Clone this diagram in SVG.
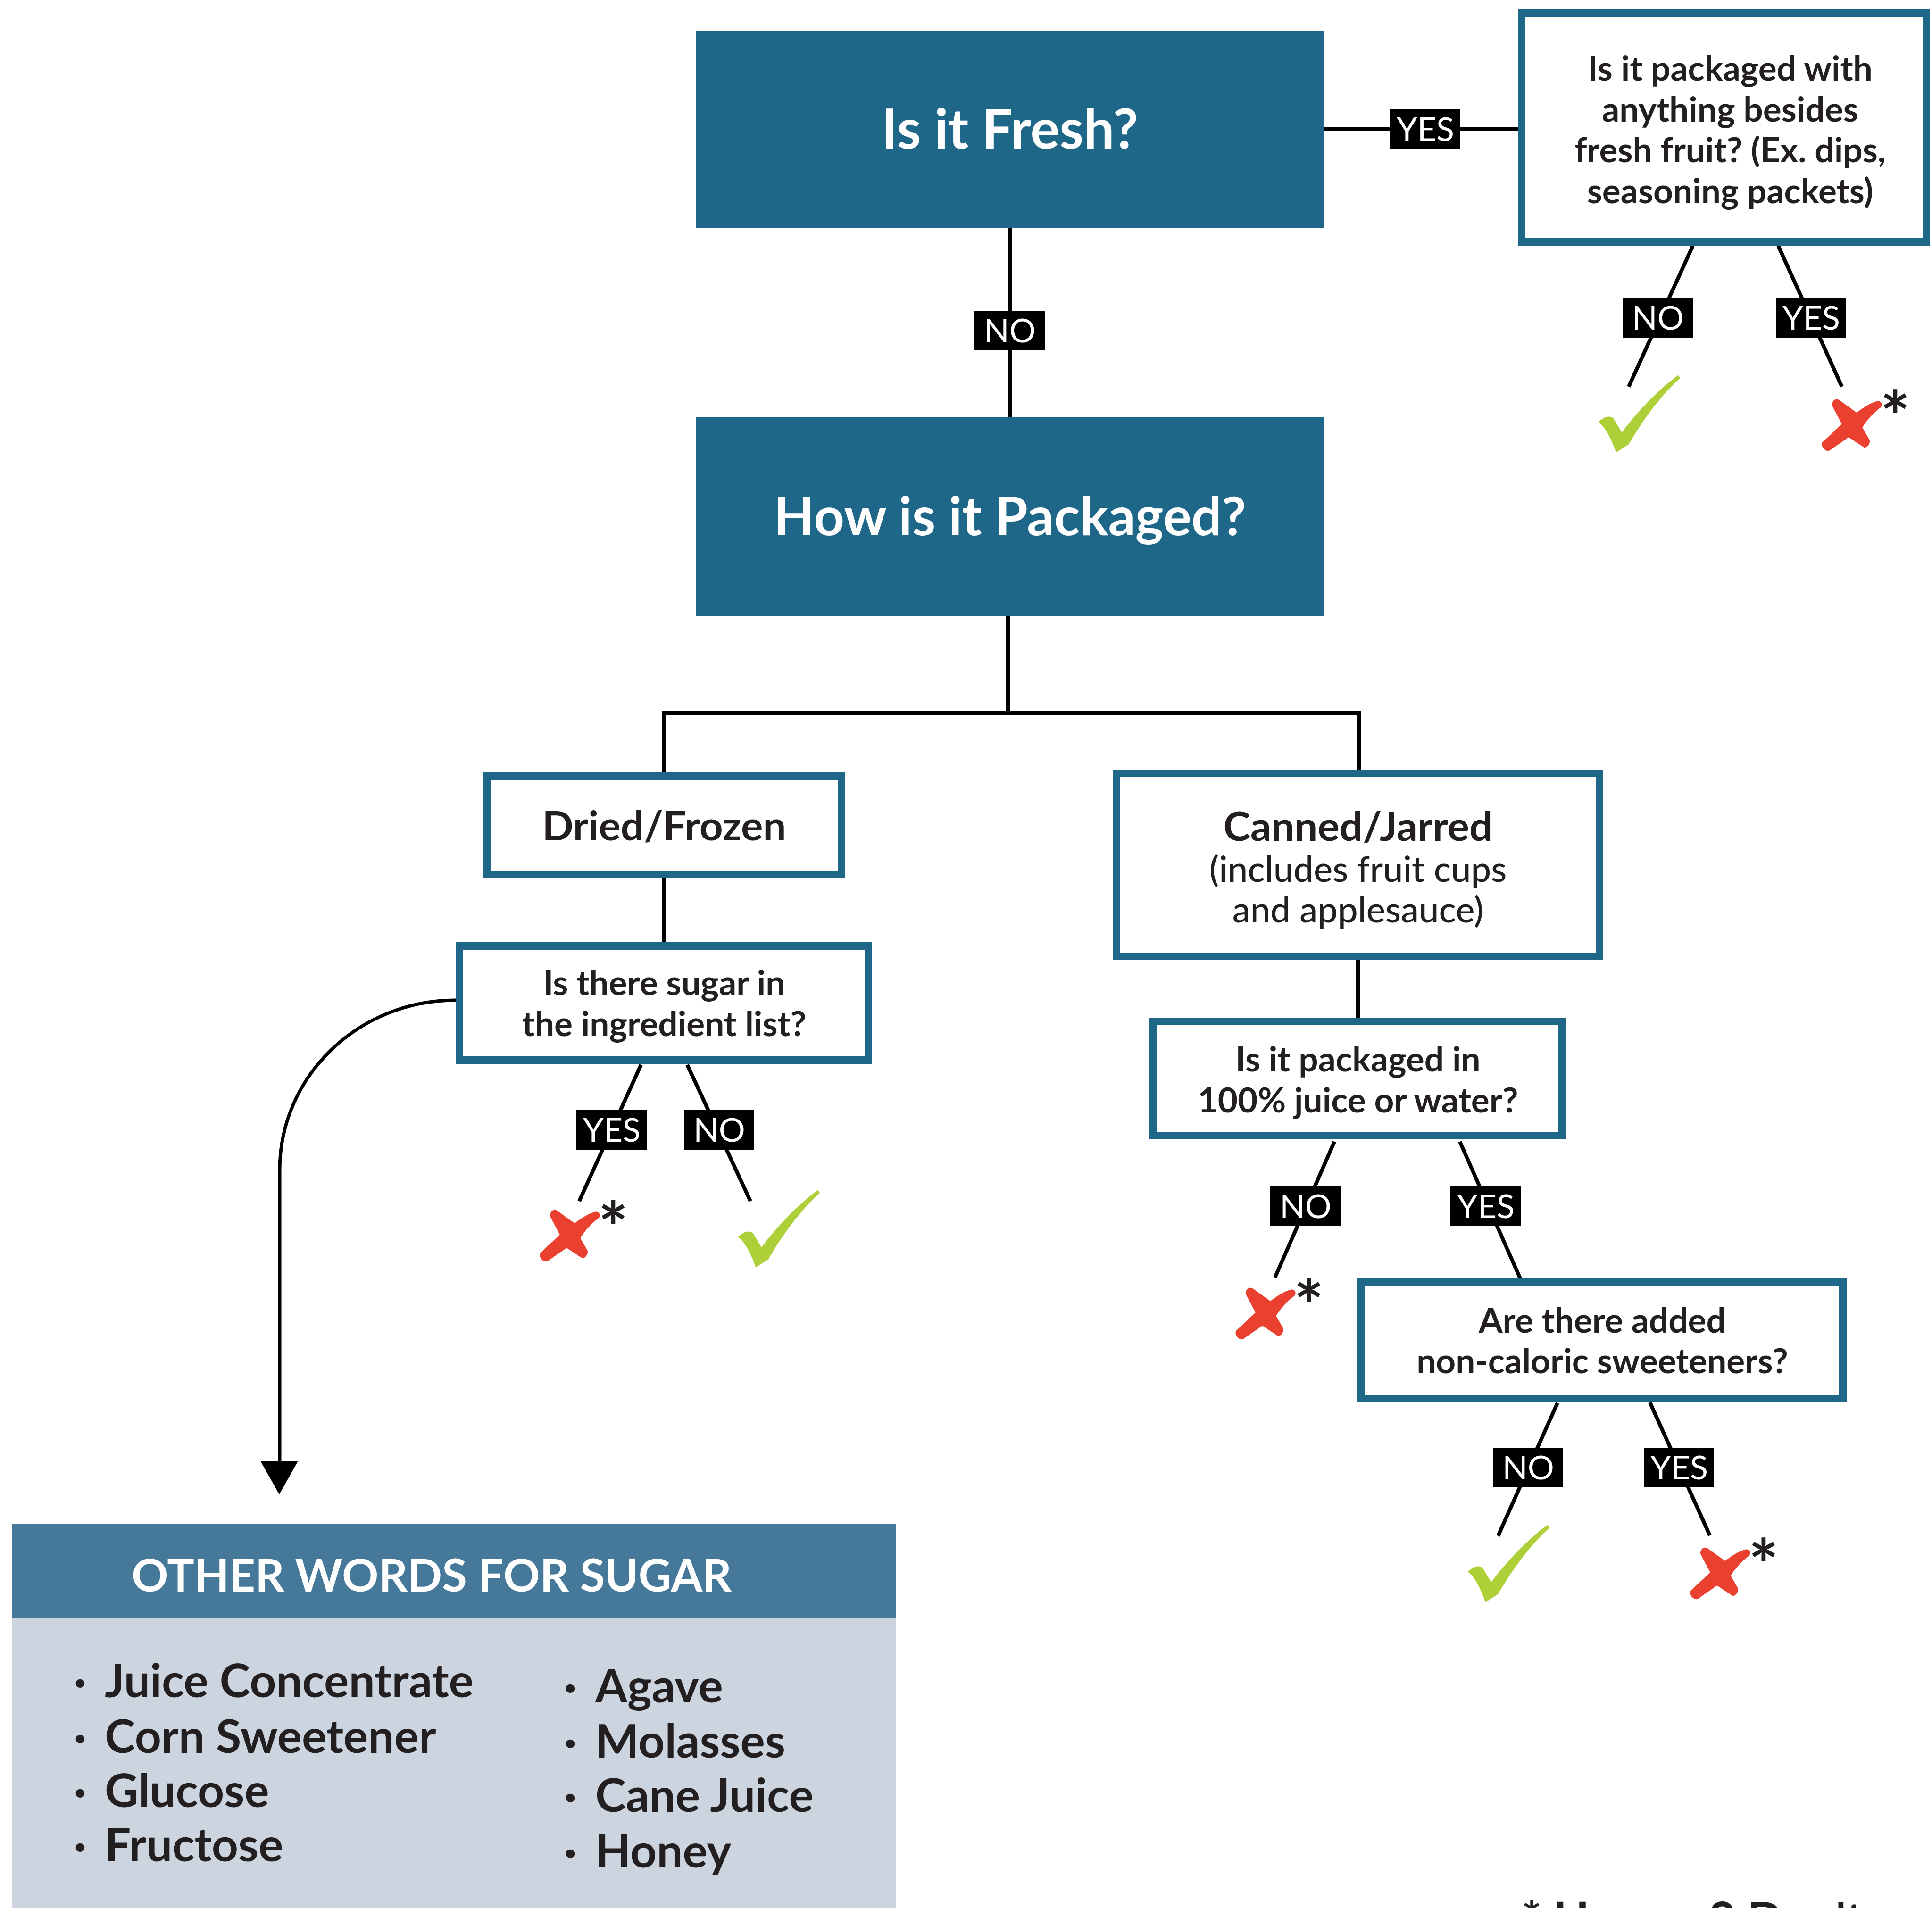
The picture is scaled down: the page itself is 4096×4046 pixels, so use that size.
<svg xmlns="http://www.w3.org/2000/svg" xmlns:xlink="http://www.w3.org/1999/xlink" width="4096" height="4046" viewBox="0 0 4096 4046">
<style>
.fill{fill:#1f6788}
.box{fill:#fff;stroke:#1f6788;stroke-width:16}
.ln{fill:none;stroke:#000;stroke-width:8}
.lbl{fill:#000}
.lt{font-family:Lato,"Liberation Sans",sans-serif;font-size:70px;fill:#fff;text-anchor:middle}
.t{font-family:Lato,"Liberation Sans",sans-serif;fill:#231f20;text-anchor:middle;font-weight:700}
.big{font-size:116px;fill:#fff}
.q{font-size:73px}
.h{font-size:87px}
.sub{font-size:76px;font-weight:500}
.li{font-family:Lato,"Liberation Sans",sans-serif;font-size:98px;font-weight:700;fill:#231f20}
.ast{font-family:Lato,"Liberation Sans",sans-serif;font-size:150px;font-weight:700;fill:#231f20;text-anchor:middle}
.chk{fill:#adcf37}
.xm{fill:#ea4030}
</style>
<defs>
<path id="chk" d="M85,535 C120,500 175,470 215,500 L290,625 C420,450 600,260 780,125 L800,150 C640,290 470,520 350,730 L240,800 C200,690 150,580 85,535 Z"/>
<path id="xm" d="M240,210 C250,180 285,180 300,192 L450,300 C510,255 570,215 630,200 C665,195 680,230 660,255 C600,300 540,360 500,430 L560,535 C575,560 545,610 515,605 L380,515 L215,630 C185,650 130,600 150,560 L320,400 L238,245 C232,232 234,220 240,210 Z"/>
</defs>
<rect width="4096" height="4046" fill="#fff"/>

<g id="connectors">
<path class="ln" d="M2805,274 H3226"/>
<path class="ln" d="M2141,483 V885"/>
<path class="ln" d="M2137,1306 V1512 M1408,1638 V1512 H2881 V1632"/>
<path class="ln" d="M1408,1862 V1998"/>
<path class="ln" d="M2879,2036 V2158"/>
<path class="ln" d="M3589,521 L3453,820 M3770,521 L3905,820"/>
<path class="ln" d="M1359,2258 L1228,2547 M1457,2258 L1591,2547"/>
<path class="ln" d="M2829,2421 L2703,2709 M3095,2421 L3223,2711"/>
<path class="ln" d="M3302,2975 L3176,3257 M3498,2974 L3625,3256"/>
<path class="ln" style="stroke-width:7" d="M966,2121 C760,2121 593,2282 593,2481 V3105"/>
<polygon points="552,3098 632,3098 592,3169" fill="#000"/>
</g>

<g id="n-fresh">
<rect class="fill" x="1476" y="65" width="1330" height="418"/>
<text class="t big" x="2141" y="315">Is it Fresh?</text>
</g>
<g id="n-packaged">
<rect class="fill" x="1476" y="885" width="1330" height="421"/>
<text class="t big" style="font-size:113px" x="2141" y="1135">How is it Packaged?</text>
</g>
<g id="n-besides">
<rect class="box" x="3226" y="28" width="858" height="485"/>
<text class="t q" x="3668" y="171">Is it packaged with</text>
<text class="t q" x="3668" y="258">anything besides</text>
<text class="t q" x="3668" y="344">fresh fruit? (Ex. dips,</text>
<text class="t q" x="3668" y="431">seasoning packets)</text>
</g>
<g id="n-dried">
<rect class="box" x="1032" y="1646" width="752" height="208"/>
<text class="t h" x="1408" y="1782">Dried/Frozen</text>
</g>
<g id="n-sugar">
<rect class="box" x="974" y="2006" width="867" height="242"/>
<text class="t q" x="1408" y="2110">Is there sugar in</text>
<text class="t q" x="1408" y="2197">the ingredient list?</text>
</g>
<g id="n-canned">
<rect class="box" x="2367" y="1640" width="1024" height="388"/>
<text class="t h" x="2879" y="1783">Canned/Jarred</text>
<text class="t sub" x="2879" y="1870">(includes fruit cups</text>
<text class="t sub" x="2879" y="1956">and applesauce)</text>
</g>
<g id="n-juice">
<rect class="box" x="2445" y="2166" width="867" height="242"/>
<text class="t q" x="2879" y="2272">Is it packaged in</text>
<text class="t q" x="2879" y="2359">100% juice or water?</text>
</g>
<g id="n-sweet">
<rect class="box" x="2886" y="2719" width="1021" height="247"/>
<text class="t q" x="3397" y="2826">Are there added</text>
<text class="t q" x="3397" y="2912">non-caloric sweeteners?</text>
</g>

<g id="labels">
<rect class="lbl" x="2947" y="232" width="149" height="84"/><text class="lt" x="3022" y="299">YES</text>
<rect class="lbl" x="2066" y="659" width="149" height="84"/><text class="lt" x="2141" y="726">NO</text>
<rect class="lbl" x="3440" y="632" width="149" height="84"/><text class="lt" x="3515" y="699">NO</text>
<rect class="lbl" x="3765" y="632" width="149" height="84"/><text class="lt" x="3840" y="699">YES</text>
<rect class="lbl" x="1222" y="2354" width="149" height="84"/><text class="lt" x="1297" y="2421">YES</text>
<rect class="lbl" x="1450" y="2354" width="149" height="84"/><text class="lt" x="1525" y="2421">NO</text>
<rect class="lbl" x="2693" y="2516" width="149" height="84"/><text class="lt" x="2768" y="2583">NO</text>
<rect class="lbl" x="3075" y="2516" width="149" height="84"/><text class="lt" x="3150" y="2583">YES</text>
<rect class="lbl" x="3165" y="3070" width="149" height="84"/><text class="lt" x="3240" y="3137">NO</text>
<rect class="lbl" x="3485" y="3070" width="149" height="84"/><text class="lt" x="3560" y="3137">YES</text>
</g>

<g id="results">
<use href="#chk" class="chk" transform="translate(3368,765) scale(0.243)"/>
<use href="#chk" class="chk" transform="translate(1544,2493) scale(0.243)"/>
<use href="#chk" class="chk" transform="translate(3091,3203) scale(0.243)"/>
<use href="#xm" class="xm" transform="translate(3827,802) scale(0.243)"/>
<use href="#xm" class="xm" transform="translate(1109,2521) scale(0.243)"/>
<use href="#xm" class="xm" transform="translate(2584,2686) scale(0.243)"/>
<use href="#xm" class="xm" transform="translate(3548,3237) scale(0.243)"/>
<text class="ast" x="4018" y="939">*</text>
<text class="ast" x="1300" y="2658">*</text>
<text class="ast" x="2775" y="2823">*</text>
<text class="ast" x="3739" y="3374">*</text>
</g>

<g id="n-otherwords">
<rect x="26" y="3232" width="1874" height="200" fill="#46789a"/>
<rect x="26" y="3432" width="1874" height="620" fill="#cbd4df"/>
<text class="t" style="font-size:96px;fill:#fff" x="915" y="3375">OTHER WORDS FOR SUGAR</text>
<g class="li">
<text x="170" y="3599" text-anchor="middle">·</text><text x="222" y="3599">Juice Concentrate</text>
<text x="170" y="3717" text-anchor="middle">·</text><text x="222" y="3717">Corn Sweetener</text>
<text x="170" y="3832" text-anchor="middle">·</text><text x="222" y="3832">Glucose</text>
<text x="170" y="3947" text-anchor="middle">·</text><text x="222" y="3947">Fructose</text>
<text x="1209" y="3610" text-anchor="middle">·</text><text x="1262" y="3610">Agave</text>
<text x="1209" y="3727" text-anchor="middle">·</text><text x="1262" y="3727">Molasses</text>
<text x="1209" y="3842" text-anchor="middle">·</text><text x="1262" y="3842">Cane Juice</text>
<text x="1209" y="3960" text-anchor="middle">·</text><text x="1262" y="3960">Honey</text>
</g>
</g>

<text class="li" style="font-size:100px" x="3226" y="4105">* Have a 2 Don't</text>
</svg>
